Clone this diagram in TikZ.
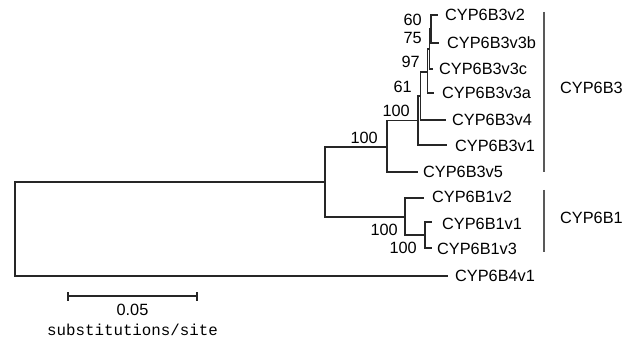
\documentclass[tikz,border=0pt]{standalone}
\usepackage{fontspec}
\setmainfont{Liberation Sans}
\newfontfamily\monofnt{Liberation Mono}
\begin{document}
\begin{tikzpicture}[x=1pt,y=-1pt,
  br/.style={draw=black!85,line width=1.1pt,line cap=rect},
  bar/.style={draw=black!65,line width=1.2pt},
  leaf/.style={anchor=west,inner sep=0pt,text height=11.6pt,text depth=0pt,font=\fontsize{16.3}{19}\selectfont},
  boot/.style={anchor=east,inner sep=0pt,text height=11.6pt,text depth=0pt,font=\fontsize{16.3}{19}\selectfont},
  clade/.style={anchor=west,inner sep=0pt,text height=11.6pt,text depth=0pt,font=\fontsize{16.3}{19}\selectfont}]
\useasboundingbox (0,0) rectangle (634,339);
% internal nodes
\coordinate (R) at (15,229);
\coordinate (C) at (325,182);
\coordinate (B) at (387,147);
\coordinate (A) at (418,120.5);
\coordinate (X) at (420.5,96);
\coordinate (Y) at (427.5,72);
\coordinate (W) at (429.5,49);
\coordinate (N1) at (431,29);
\coordinate (D) at (405,217);
\coordinate (E) at (425,235);
% leaf ends
\coordinate (e2) at (437,15);
\coordinate (e3b) at (438,43);
\coordinate (e3c) at (432,69);
\coordinate (e3a) at (433,93);
\coordinate (e4) at (445,120);
\coordinate (e1) at (446,145);
\coordinate (e5) at (417,172);
\coordinate (f2) at (423,198);
\coordinate (f1) at (431,222);
\coordinate (f3) at (431,248);
\coordinate (g1) at (447,276);
% branches
\draw[br] (C) -| (R) |- (g1);
\draw[br] (B) -| (C) |- (D);
\draw[br] (A) -| (B) |- (e5);
\draw[br] (X) -| (A) |- (e1);
\draw[br] (Y) -| (X) |- (e4);
\draw[br] (W) -| (Y) |- (e3a);
\draw[br] (N1) -| (W) |- (e3c);
\draw[br] (e2) -| (N1) |- (e3b);
\draw[br] (f2) -| (D) |- (E);
\draw[br] (f1) -| (E) |- (f3);
% leaf labels
\node[leaf] (l2) at (445,15) {CYP6B3v2};
\node[leaf] (l3b) at (447,43) {CYP6B3v3b};
\node[leaf] (l3c) at (439,69) {CYP6B3v3c};
\node[leaf] (l3a) at (442,93) {CYP6B3v3a};
\node[leaf] (l4) at (452,120) {CYP6B3v4};
\node[leaf] (l1) at (455,146) {CYP6B3v1};
\node[leaf] (l5) at (423,172) {CYP6B3v5};
\node[leaf] (m2) at (432,197) {CYP6B1v2};
\node[leaf] (m1) at (442,224) {CYP6B1v1};
\node[leaf] (m3) at (437,249) {CYP6B1v3};
\node[leaf] (n1) at (455,276) {CYP6B4v1};
% bootstrap values
\node[boot] (b60) at (422,20) {60};
\node[boot] (b75) at (422,38) {75};
\node[boot] (b97) at (420,62) {97};
\node[boot] (b61) at (412,87) {61};
\node[boot] (bA) at (410,111) {100};
\node[boot] (bB) at (378,138) {100};
\node[boot] (bD) at (398,230) {100};
\node[boot] (bE) at (417,248) {100};
% clade bars
\coordinate (t3) at (544,12);
\coordinate (u3) at (544,172);
\coordinate (t1) at (544,190);
\coordinate (u1) at (544,252);
\draw[bar] (t3) -- (u3);
\draw[bar] (t1) -- (u1);
\node[clade] (c3) at (560,88) {CYP6B3};
\node[clade] (c1) at (560,218) {CYP6B1};
% scale bar
\coordinate (s1) at (68,296);
\coordinate (s2) at (197,296);
\draw[br,line cap=butt] (s1) -- (s2);
\draw[br,line cap=butt] ([yshift=-4.5pt]s1) -- ([yshift=4.5pt]s1);
\draw[br,line cap=butt] ([yshift=-4.5pt]s2) -- ([yshift=4.5pt]s2);
\node[inner sep=0pt,text height=11.6pt,text depth=0pt,font=\fontsize{16.3}{19}\selectfont] (sl) at (132.5,310) {0.05};
\node[inner sep=0pt,font=\monofnt\fontsize{15.8}{19}\selectfont] (su) at (132.5,330) {substitutions/site};
\end{tikzpicture}
\end{document}
